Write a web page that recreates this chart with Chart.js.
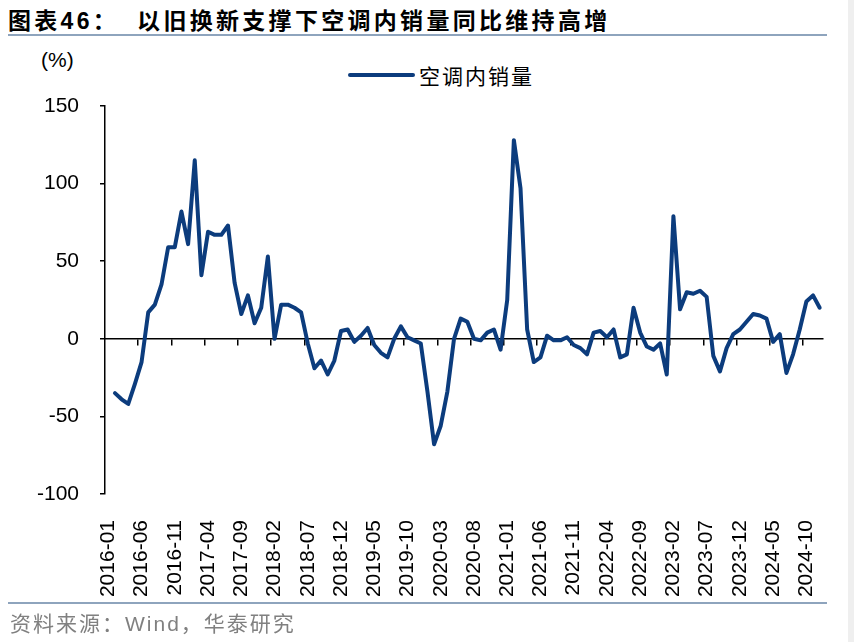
<!DOCTYPE html>
<html>
<head>
<meta charset="utf-8">
<script src="https://cdn.jsdelivr.net/npm/chart.js@4.4.1/dist/chart.umd.min.js"></script>
<style>
  body { margin: 0; width: 854px; height: 642px; background: #fff; position: relative; overflow: hidden; font-family: "Liberation Sans", Arial, sans-serif; }
  #chart { position: absolute; left: 0; top: 0; }
  #title { position: absolute; left: 8px; top: 2px; font: bold 23px "Liberation Sans", "Noto Sans CJK SC"; letter-spacing: 3.3px; color: #000; white-space: nowrap; }
  #title .gap { display: inline-block; width: 18px; }
  .rule { position: absolute; left: 8px; width: 819px; height: 2px; background: #8ea4bd; }
  #unit { position: absolute; left: 41px; top: 48px; font-size: 21px; color: #000; }
  #legend { position: absolute; left: 348px; top: 60px; height: 30px; white-space: nowrap; }
  #legend .swatch { position: absolute; left: 0; top: 13px; width: 67px; height: 4px; border-radius: 2px; }
  #legend .name { position: absolute; left: 71px; top: 0; font: 21px "Noto Sans CJK SC"; letter-spacing: 2px; color: #000; line-height: 30px; }
  #source { position: absolute; left: 10px; top: 607px; font: 21px "Liberation Sans", "Noto Sans CJK SC"; letter-spacing: 2px; color: #808080; white-space: nowrap; }
  #edge { position: absolute; right: 0; top: 0; width: 6px; height: 642px; background: #efefef; }
</style>
</head>
<body>
<div id="title">图表46：<span class="gap"></span>以旧换新支撑下空调内销量同比维持高增</div>
<div class="rule" style="top:34px"></div>
<div id="unit">(%)</div>
<div id="legend"><div class="swatch"></div><div class="name"></div></div>
<canvas id="chart" width="854" height="642"></canvas>
<div class="rule" style="top:602px"></div>
<div id="source">资料来源：Wind，华泰研究</div>
<div id="edge"></div>
<script>
// 2016-01 ... 2024-12, monthly
const months = [];
for (let y = 2016; y <= 2024; y++) {
  for (let m = 1; m <= 12; m++) months.push(y + '-' + String(m).padStart(2, '0'));
}

const seriesName = '空调内销量';
// YoY, %  (2016-01 has no value)
const acDomesticYoY = [
  null, -35, -39, -42, -29, -15, 17, 22, 35, 59, 59, 82,
  61, 115, 41, 69, 67, 67, 73, 36, 16, 28, 10, 20,
  53, 0, 22, 22, 20, 17, -3, -19, -14, -23, -14, 5,
  6, -2, 2, 7, -4, -9, -12, 0, 8, 1, -1, -3,
  -34, -68, -56, -34, 0, 13, 11, 0, -1, 4, 6, -7,
  25, 128, 97, 6, -15, -12, 2, -1, -1, 1, -4, -6,
  -10, 4, 5, 1, 6, -12, -10, 20, 4, -5, -7, -3,
  -23, 79, 19, 30, 29, 31, 27, -11, -21, -6, 3, 6,
  11, 16, 15, 13, -2, 3, -22, -10, 6, 24, 28, 20
];

const labelEvery = 5;
const yMin = -100, yMax = 150, yStep = 50;
const lineColor = '#0c3c7d';

document.querySelector('#legend .swatch').style.background = lineColor;
document.querySelector('#legend .name').textContent = seriesName;

const axisFont = { family: 'Liberation Sans', size: 21 };

new Chart(document.getElementById('chart'), {
  type: 'line',
  data: {
    labels: months,
    datasets: [{
      label: seriesName,
      data: acDomesticYoY,
      borderColor: lineColor,
      borderWidth: 4,
      pointRadius: 0,
      tension: 0,
      borderJoinStyle: 'round',
      borderCapStyle: 'round',
      fill: false
    }]
  },
  options: {
    responsive: false,
    animation: false,
    layout: { padding: { left: 0, right: 31, top: 106, bottom: 0 } },
    plugins: { legend: { display: false }, tooltip: { enabled: false } },
    scales: {
      x: {
        type: 'category',
        offset: true,
        grid: { display: false },
        border: { display: false },
        ticks: {
          autoSkip: false,
          minRotation: 90,
          maxRotation: 90,
          padding: 18,
          color: '#000',
          font: axisFont,
          callback: (v, i) => (i % labelEvery === 0 ? months[i] : '')
        },
        afterFit: s => { s.height = 148; s.paddingLeft = 0; s.paddingRight = 0; }
      },
      // axis line + tick marks drawn at y = 0
      x0: {
        type: 'category',
        offset: true,
        position: { y: 0 },
        ticks: { display: false },
        grid: {
          offset: true,
          drawOnChartArea: false,
          drawTicks: true,
          tickLength: 6,
          lineWidth: 1.5,
          color: c => (c.index > 0 && c.index % labelEvery === 0 ? '#000' : 'rgba(0,0,0,0)')
        },
        border: { color: '#000', width: 1.5 },
        afterFit: s => { s.height = 0; s.paddingLeft = 0; s.paddingRight = 0; }
      },
      y: {
        min: yMin,
        max: yMax,
        ticks: { stepSize: yStep, padding: 21, color: '#000', font: axisFont },
        grid: { drawOnChartArea: false, drawTicks: true, tickLength: 5, color: '#000', lineWidth: 1.5 },
        border: { color: '#000', width: 1.5 },
        afterFit: s => { s.width = 105; }
      }
    }
  }
});
</script>
</body>
</html>
